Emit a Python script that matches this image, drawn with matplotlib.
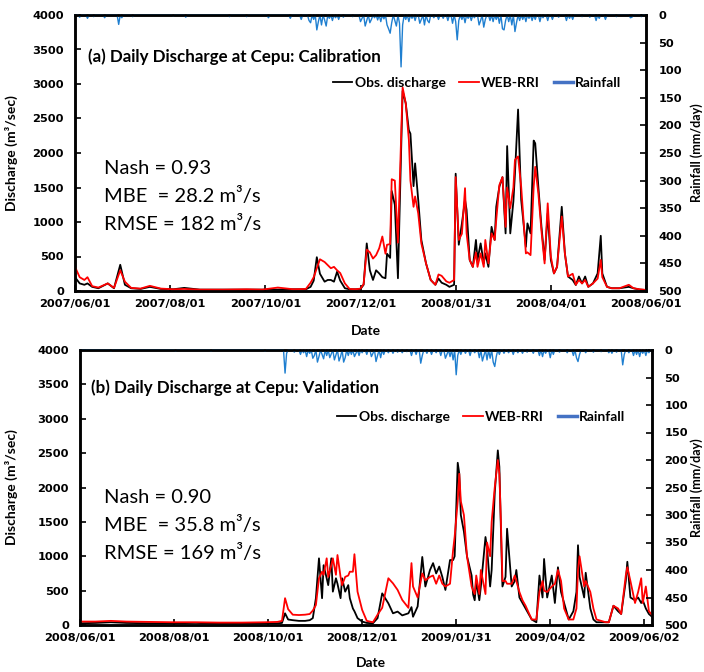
import numpy as np
import pandas as pd
import matplotlib
matplotlib.use("Agg")
import matplotlib.pyplot as plt
from matplotlib.lines import Line2D

# ---------------------------------------------------------------- data
# (a) calibration period, day offsets from CAL_START
CAL_START = "2007-06-01"
CAL_END_DAY = 366
CAL_DAYS = [0, 3, 6, 8, 11, 15, 21, 25, 29, 32, 36, 42, 48, 55, 63, 70, 80, 95, 110, 120,
            130, 140, 148, 151, 153, 155, 157, 160, 162, 164, 166, 168, 170, 173, 176, 180,
            183, 185, 187, 189, 191, 193, 195, 197, 199, 200, 202, 203, 205, 207, 210, 212,
            214, 215, 217, 218, 220, 222, 225, 228, 231, 233, 235, 238, 240, 243, 244, 246,
            248, 250, 251, 253, 255, 257, 258, 260, 262, 263, 265, 267, 269, 270, 272, 274,
            276, 277, 279, 281, 282, 284, 286, 289, 290, 292, 294, 295, 297, 299, 301, 303,
            305, 307, 309, 312, 314, 316, 319, 321, 323, 325, 327, 329, 332, 335, 337, 338,
            341, 344, 349, 355, 358, 362, 366]
CAL_OBS = [200, 110, 90, 110, 60, 40, 110, 40, 380, 90, 40, 30, 60, 30, 25, 45, 20, 20, 20, 20,
           20, 25, 25, 60, 150, 490, 250, 135, 160, 160, 135, 280, 150, 40, 25, 25,
           30, 90, 690, 300, 160, 300, 255, 200, 185, 540, 480, 1450, 1250, 185, 2900, 2720,
           2330, 2280, 1520, 1850, 1320, 740, 400, 160, 90, 180, 120, 90, 60, 90, 1700, 670,
           980, 1320, 1175, 450, 350, 740, 450, 690, 400, 545, 350, 930, 740, 1220, 1510, 1650,
           835, 2100, 835, 1300, 1700, 2630, 1320, 640, 980, 835, 2180, 2140, 1510, 930, 450, 1125,
           450, 255, 350, 1220, 545, 210, 160, 87, 210, 110, 210, 60, 110, 255, 800, 255,
           60, 40, 40, 60, 40, 20, 15]
CAL_SIM = [350, 200, 160, 200, 70, 50, 110, 45, 300, 135, 45, 35, 75, 35, 25, 30, 20, 20, 25, 20,
           50, 25, 30, 120, 200, 330, 460, 420, 375, 330, 350, 300, 260, 110, 30, 25,
           35, 100, 600, 560, 470, 520, 620, 790, 540, 670, 680, 1620, 1600, 700, 2950, 2720,
           2190, 1600, 1220, 1370, 1125, 690, 400, 160, 90, 240, 220, 140, 120, 160, 1650, 740,
           830, 1490, 835, 450, 350, 560, 350, 545, 350, 740, 400, 835, 740, 1030, 1535, 1650,
           930, 1500, 1200, 1500, 1900, 1950, 1510, 545, 560, 520, 1510, 1800, 1415, 870, 400, 1270,
           500, 255, 350, 1080, 545, 210, 250, 90, 160, 110, 160, 60, 110, 180, 450, 200,
           60, 40, 40, 90, 40, 25, 15]
CAL_RAIN_DAYS = [3, 8, 12, 19, 28, 30, 37, 63, 71, 99, 110, 124, 138, 145, 150, 151, 153, 155,
                 156, 158, 160, 161, 163, 165, 167, 169, 172, 178, 183, 184, 186, 187, 189, 190,
                 192, 194, 196, 198, 200, 201, 202, 203, 205, 206, 208, 209, 210, 212, 214, 216,
                 218, 221, 222, 224, 226, 227, 230, 233, 236, 239, 242, 244, 245, 246, 248, 250,
                 252, 254, 256, 259, 260, 262, 263, 266, 268, 270, 272, 274, 275, 276, 278, 280,
                 282, 283, 285, 287, 289, 291, 293, 295, 298, 300, 303, 306, 310, 315, 317, 319,
                 325, 330, 334, 336, 340, 347, 356, 357, 363]
CAL_RAIN_MM = [4, 6, 3, 5, 17, 5, 3, 2, 4, 3, 3, 5, 6, 8, 10, 14, 8, 27,
               12, 18, 9, 20, 6, 10, 5, 8, 4, 3, 12, 6, 20, 10, 14, 8,
               5, 9, 12, 7, 18, 25, 33, 14, 10, 20, 15, 94, 18, 8, 12, 6,
               10, 15, 8, 18, 10, 14, 5, 8, 6, 10, 15, 12, 45, 10, 8, 14,
               6, 10, 5, 18, 10, 22, 8, 10, 12, 8, 15, 25, 27, 10, 12, 18,
               30, 14, 10, 8, 12, 6, 10, 8, 12, 5, 10, 8, 4, 10, 6, 8,
               3, 4, 10, 6, 8, 3, 5, 4, 3]
CAL_TICKS = ["2007/06/01", "2007/08/01", "2007/10/01", "2007/12/01",
             "2008/01/31", "2008/04/01", "2008/06/01"]

# (b) validation period, day offsets from VAL_START
VAL_START = "2008-06-01"
VAL_END_DAY = 371
VAL_DAYS = [0, 10, 20, 30, 45, 60, 75, 90, 105, 120, 128, 131, 133, 135, 138, 142, 146, 149, 151,
            153, 155, 157, 158, 160, 161, 163, 164, 166, 167, 169, 170, 172, 174, 175, 177, 178,
            180, 183, 186, 190, 193, 196, 200, 203, 206, 209, 213, 215, 216, 219, 222, 224, 227,
            229, 231, 233, 235, 237, 240, 242, 243, 245, 246, 247, 249, 251, 254, 255, 256, 257,
            259, 260, 263, 264, 266, 267, 269, 271, 272, 273, 274, 276, 277, 280, 282, 283, 285,
            287, 289, 293, 296, 298, 300, 301, 303, 306, 308, 310, 312, 314, 317, 320, 322, 323,
            324, 327, 328, 331, 333, 335, 341, 343, 346, 349, 351, 354, 355, 357, 360, 362, 364,
            365, 367, 369, 371]
VAL_OBS = [25, 30, 40, 30, 25, 25, 30, 20, 20, 25, 25, 30, 170, 80, 70, 60, 60, 70, 100,
           390, 970, 390, 870, 680, 580, 970, 485, 680, 600, 390, 680, 485, 580, 390, 240, 200,
           100, 50, 30, 25, 100, 460, 315, 170, 195, 140, 170, 260, 120, 270, 990, 560, 800,
           900, 750, 850, 700, 510, 945, 945, 1000, 2360, 2200, 1600, 1360, 1000, 720, 440, 360, 640,
           360, 560, 1280, 1120, 560, 800, 1920, 2540, 2300, 1400, 560, 700, 1400, 560, 640, 800, 400,
           320, 240, 80, 40, 720, 400, 960, 400, 720, 320, 840, 480, 320, 80, 200, 480, 1160,
           700, 400, 760, 240, 80, 40, 40, 40, 280, 200, 160, 640, 920, 400, 360, 400, 320,
           360, 240, 160, 120]
VAL_SIM = [50, 50, 60, 50, 45, 40, 40, 35, 35, 40, 45, 60, 390, 230, 150, 145, 150, 160, 210,
           290, 680, 775, 730, 970, 700, 870, 970, 730, 1018, 700, 580, 700, 720, 775, 775, 1030,
           485, 220, 60, 40, 150, 250, 680, 606, 510, 365, 250, 900, 560, 400, 750, 650, 700,
           720, 600, 720, 600, 560, 600, 1090, 1285, 1800, 2200, 1800, 1600, 1000, 560, 500, 450, 720,
           450, 800, 450, 1200, 1000, 1500, 2000, 2400, 2200, 1500, 640, 640, 600, 600, 720, 640, 480,
           360, 280, 80, 80, 480, 640, 500, 480, 560, 600, 800, 640, 240, 80, 80, 240, 800,
           1000, 560, 640, 480, 240, 80, 40, 40, 280, 240, 160, 720, 840, 640, 320, 480, 680,
           320, 560, 200, 150]
VAL_RAIN_DAYS = [20, 62, 85, 120, 133, 134, 139, 143, 145, 147, 149, 151, 152, 154, 155, 157, 158,
                 160, 162, 163, 165, 166, 168, 169, 171, 172, 174, 176, 178, 179, 181, 183, 186,
                 189, 190, 192, 193, 195, 197, 200, 203, 206, 209, 212, 215, 218, 221, 222, 225,
                 228, 231, 234, 237, 238, 240, 242, 244, 245, 247, 250, 253, 256, 259, 261, 262,
                 264, 266, 268, 269, 270, 272, 275, 278, 281, 284, 287, 290, 294, 298, 300, 302,
                 305, 307, 311, 316, 320, 322, 323, 324, 328, 333, 338, 343, 345, 348, 352, 353,
                 356, 359, 361, 363, 365, 367, 369]
VAL_RAIN_MM = [2, 2, 2, 2, 42, 6, 4, 8, 5, 12, 6, 15, 10, 22, 12, 8, 16,
               10, 14, 7, 18, 9, 20, 12, 22, 14, 10, 8, 12, 6, 10, 5, 8,
               12, 6, 21, 10, 14, 8, 5, 6, 4, 5, 3, 10, 8, 24, 10, 6,
               8, 5, 10, 15, 8, 12, 18, 45, 10, 8, 6, 10, 5, 14, 20, 10,
               18, 15, 22, 30, 12, 8, 6, 5, 8, 5, 6, 4, 6, 10, 12, 6,
               14, 8, 4, 5, 10, 14, 21, 8, 5, 4, 3, 5, 6, 4, 27, 8,
               5, 10, 8, 12, 6, 10, 5]
VAL_TICKS = ["2008/06/01", "2008/08/01", "2008/10/01", "2008/12/01",
             "2009/01/31", "2009/04/02", "2009/06/02"]

# ---------------------------------------------------------------- style
W, H = 704, 672
OBS_COLOR = "black"
SIM_COLOR = "#ff0000"
RAIN_COLOR = "#1f7fd0"
RAIN_KEY_COLOR = "#4472c4"
TEXT_FONT = ["Lato", "DejaVu Sans"]
TICK_FONT = ["DejaVu Sans"]

fig = plt.figure(figsize=(W / 100, H / 100), dpi=100)


def fx(x):
    return x / W


def fy(y):
    return 1 - y / H


def draw_panel(box, start, end_day, days, obs, sim, rain_days, rain_mm, ticks,
               title, stats, title_pos, stats_pos, legend_pos, date_y):
    left, top, right, bottom = box
    ax = fig.add_axes([fx(left), fy(bottom), (right - left) / W, (bottom - top) / H])
    t0 = pd.Timestamp(start)
    dates = t0 + pd.to_timedelta(days, unit="D")
    ax.plot(dates, obs, color=OBS_COLOR, lw=1.3, zorder=3)
    ax.plot(dates, sim, color=SIM_COLOR, lw=1.3, zorder=4)
    ax.set_xlim(t0, t0 + pd.Timedelta(days=end_day))
    ax.set_ylim(0, 4000)
    ax.set_yticks(np.arange(0, 4001, 500))
    tick_dates = pd.to_datetime(ticks, format="%Y/%m/%d")
    ax.set_xticks(tick_dates)
    ax.set_xticklabels(ticks)

    # daily rainfall hanging from the top on a reversed secondary axis
    ax2 = ax.twinx()
    daily = pd.date_range(t0, t0 + pd.Timedelta(days=end_day), freq="D")
    rain = np.zeros(len(daily))
    rain[np.asarray(rain_days)] = rain_mm
    ax2.plot(daily, rain, color=RAIN_COLOR, lw=1.0, zorder=2, clip_on=False)
    ax2.set_ylim(500, 0)
    ax2.set_yticks(np.arange(0, 501, 50))
    ax2.set_xlim(t0, t0 + pd.Timedelta(days=end_day))

    for a in (ax, ax2):
        for s in a.spines.values():
            s.set_linewidth(1.8)
            s.set_color("black")
    ax.tick_params(axis="both", direction="in", length=4, width=1.2)
    ax.tick_params(axis="y", pad=8)
    ax.tick_params(axis="x", pad=6)
    ax2.tick_params(axis="y", direction="in", length=4, width=1.2, pad=9)
    for lab in ax.get_xticklabels() + ax.get_yticklabels() + ax2.get_yticklabels():
        lab.set_family(TICK_FONT)
        lab.set_fontweight("bold")
        lab.set_fontsize(8.2)

    ax.set_ylabel("Discharge (m³/sec)", family=TEXT_FONT, fontweight="bold", fontsize=10)
    ax.yaxis.set_label_coords((18 - left) / (right - left), 0.5)
    ax2.set_ylabel("Rainfall (mm/day)", family=TEXT_FONT, fontweight="bold", fontsize=9)
    ax2.yaxis.set_label_coords((690 - left) / (right - left), 0.5)

    fig.text(fx((left + right) / 2 + 5), fy(date_y), "Date", family=TEXT_FONT,
             fontweight="bold", fontsize=10, ha="center", va="center")

    fig.text(fx(title_pos[0]), fy(title_pos[1]), title, family=TEXT_FONT,
             fontweight="bold", fontsize=12.2, va="baseline")
    for i, line in enumerate(stats):
        fig.text(fx(stats_pos[0]), fy(stats_pos[1] + 28 * i), line, family=TEXT_FONT,
                 fontsize=14.5, va="baseline")

    handles = [Line2D([], [], color=OBS_COLOR, lw=1.3),
               Line2D([], [], color=SIM_COLOR, lw=1.3),
               Line2D([], [], color=RAIN_KEY_COLOR, lw=2.5)]
    fig.legend(handles, ["Obs. discharge", "WEB-RRI", "Rainfall"], ncol=3,
               loc="center left", bbox_to_anchor=(fx(legend_pos[0]), fy(legend_pos[1])),
               frameon=False, handlelength=1.4, handletextpad=0.15, columnspacing=1.0,
               borderpad=0, borderaxespad=0,
               prop={"family": TEXT_FONT, "weight": "bold", "size": 10})
    return ax


draw_panel((75, 15, 646, 291), CAL_START, CAL_END_DAY, CAL_DAYS, CAL_OBS, CAL_SIM,
           CAL_RAIN_DAYS, CAL_RAIN_MM, CAL_TICKS,
           "(a) Daily Discharge at Cepu: Calibration",
           ["Nash = 0.93", "MBE  = 28.2 m³/s", "RMSE = 182 m³/s"],
           (88, 62), (104, 174), (333, 83), 331)

draw_panel((80, 350, 652, 625), VAL_START, VAL_END_DAY, VAL_DAYS, VAL_OBS, VAL_SIM,
           VAL_RAIN_DAYS, VAL_RAIN_MM, VAL_TICKS,
           "(b) Daily Discharge at Cepu: Validation",
           ["Nash = 0.90", "MBE  = 35.8 m³/s", "RMSE = 169 m³/s"],
           (91, 393), (104, 503), (337, 417), 663)

fig.savefig("out.png", dpi=100)
